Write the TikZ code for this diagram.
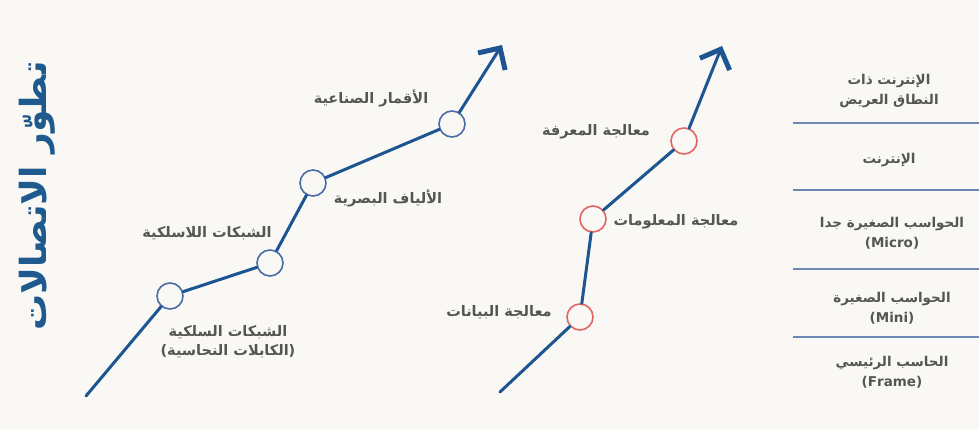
\documentclass[tikz,border=0pt]{standalone}
\usepackage{fontspec}
\usetikzlibrary{arrows.meta}
\TeXXeTstate=1
\newfontfamily\arabicfont[Script=Arabic]{DejaVu Sans}

\definecolor{bg}{HTML}{F9F8F4}
\definecolor{lineblue}{HTML}{1C5592}
\definecolor{titleblue}{HTML}{1F5A8E}
\definecolor{ringblue}{HTML}{4A6DA6}
\definecolor{ringred}{HTML}{E06666}
\definecolor{labelgrey}{HTML}{555555}
\definecolor{rulecol}{HTML}{6C87B3}

\tikzset{
  curve/.style={draw=lineblue, line width=3pt, line cap=round},
  tipped/.style={curve, -{Straight Barb[length=16pt,width=32pt,line width=5pt]}},
  stage/.style={circle, minimum size=26pt, inner sep=0pt, fill=bg, line width=1.6pt},
  bluestage/.style={stage, draw=ringblue},
  redstage/.style={stage, draw=ringred},
  lbl/.style={font=\arabicfont\bfseries\fontsize{14.5}{19}\selectfont, text=labelgrey, align=center, inner sep=0pt},
  collbl/.style={lbl, font=\arabicfont\bfseries\fontsize{13.5}{20}\selectfont},
  sep/.style={draw=rulecol, line width=1.8pt}
}

\begin{document}
\begin{tikzpicture}[x=1pt, y=-1pt]
  \useasboundingbox (0,0) rectangle (979,430);
  \fill[bg] (0,0) rectangle (979,430);

  % title
  \node[rotate=90, font=\arabicfont\bfseries\fontsize{36}{36}\selectfont, text=titleblue, inner sep=0pt]
    (title) at (37,196) {\beginR تطوّر الاتصالات\endR};

  % communications path
  \coordinate (s1) at (86,396);
  \coordinate (t1) at (502,45);
  \node[bluestage] (b1) at (170,296) {};
  \node[bluestage] (b2) at (270,263) {};
  \node[bluestage] (b3) at (313,183) {};
  \node[bluestage] (b4) at (452,124) {};
  \draw[curve] (s1) -- (b1);
  \draw[curve] (b1) -- (b2);
  \draw[curve] (b2) -- (b3);
  \draw[curve] (b3) -- (b4);
  \draw[tipped] (b4) -- (t1);

  \node[lbl] (l1) at (228,342) {\beginR الشبكات السلكية\endR\\ \beginR (الكابلات النحاسية)\endR};
  \node[lbl] (l2) at (207,233) {\beginR الشبكات اللاسلكية\endR};
  \node[lbl] (l3) at (388,198) {\beginR الألياف البصرية\endR};
  \node[lbl] (l4) at (371,98) {\beginR الأقمار الصناعية\endR};

  % processing path
  \coordinate (s2) at (500,392);
  \coordinate (t2) at (722,46);
  \node[redstage] (r1) at (580,317) {};
  \node[redstage] (r2) at (593,219) {};
  \node[redstage] (r3) at (684,141) {};
  \draw[curve] (s2) -- (r1);
  \draw[curve] (r1) -- (r2);
  \draw[curve] (r2) -- (r3);
  \draw[tipped] (r3) -- (t2);

  \node[lbl] (p1) at (499,312) {\beginR معالجة البيانات\endR};
  \node[lbl] (p2) at (676,222) {\beginR معالجة المعلومات\endR};
  \node[lbl] (p3) at (596,132) {\beginR معالجة المعرفة\endR};

  % computing eras column
  \draw[sep] (793,123) -- (979,123);
  \draw[sep] (793,190) -- (979,190);
  \draw[sep] (793,269) -- (979,269);
  \draw[sep] (793,337) -- (979,337);

  \node[collbl] (c1) at (889,91) {\beginR الإنترنت ذات\endR\\ \beginR النطاق العريض\endR};
  \node[collbl] (c2) at (889,160) {\beginR الإنترنت\endR};
  \node[collbl] (c3) at (892,233) {\beginR الحواسب الصغيرة جدا\endR\\ (Micro)};
  \node[collbl] (c4) at (892,308) {\beginR الحواسب الصغيرة\endR\\ (Mini)};
  \node[collbl] (c5) at (892,372) {\beginR الحاسب الرئيسي\endR\\ (Frame)};
\end{tikzpicture}
\end{document}
